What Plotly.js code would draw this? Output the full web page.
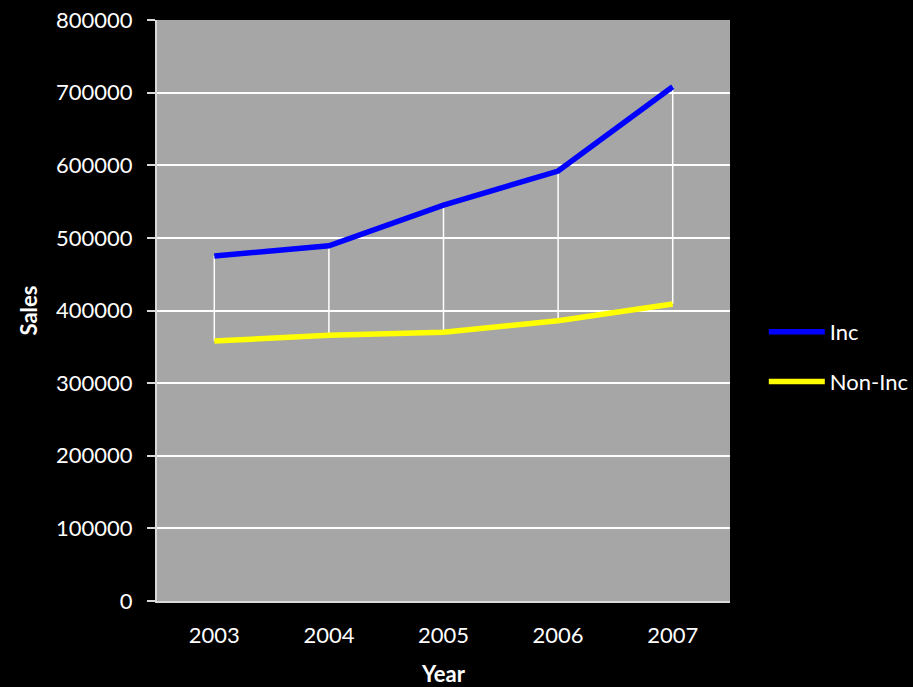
<!DOCTYPE html>
<html>
<head>
<meta charset="utf-8">
<script src="https://cdn.plot.ly/plotly-3.0.1.min.js"></script>
<style>
  html, body { margin: 0; padding: 0; background: #000; }
  #chart { width: 913px; height: 687px; }
</style>
</head>
<body>
<div id="chart"></div>
<script>
// Yearly sales for the two groups
const years = ['2003', '2004', '2005', '2006', '2007'];
const incSales = [475000, 489000, 545000, 592000, 708000];
const nonIncSales = [358000, 366000, 370000, 386000, 409000];
const yTicks = [0, 100000, 200000, 300000, 400000, 500000, 600000, 700000, 800000];

// High-low connectors between the two series at each year
const hlX = [];
const hlY = [];
years.forEach((yr, i) => {
  hlX.push(yr, yr, null);
  hlY.push(nonIncSales[i], incSales[i], null);
});

const font = 'Lato, "Open Sans", sans-serif';
const fs = 22;

const traces = [
  {
    x: hlX, y: hlY, mode: 'lines', type: 'scatter',
    line: { color: '#ffffff', width: 1.5 },
    showlegend: false, hoverinfo: 'skip'
  },
  {
    x: years, y: incSales, name: 'Inc', mode: 'lines', type: 'scatter',
    legendgroup: 'inc',
    line: { color: '#0000ff', width: 5.5 }
  },
  {
    x: years, y: nonIncSales, name: 'Non-Inc', mode: 'lines', type: 'scatter',
    legendgroup: 'noninc',
    line: { color: '#ffff00', width: 5.5 }
  }
];

const layout = {
  width: 913, height: 687,
  paper_bgcolor: '#000000',
  plot_bgcolor: '#a6a6a6',
  margin: { l: 157, r: 183, t: 20, b: 86, autoexpand: false },
  font: { family: font, color: '#ffffff', size: fs },
  showlegend: true,
  legend: {
    x: 1.059, y: 0.42, xanchor: 'left', yanchor: 'middle',
    bgcolor: 'rgba(0,0,0,0)',
    font: { family: font, color: '#ffffff', size: fs },
    traceorder: 'grouped',
    tracegroupgap: 18,
    itemwidth: 56
  },
  xaxis: {
    type: 'category',
    range: [-0.5, 4.5],
    showgrid: false,
    showline: true, linecolor: '#d9d9d9', linewidth: 2,
    ticks: '',
    ticklabelstandoff: 14,
    tickfont: { family: font, color: '#ffffff', size: fs },
    title: { text: 'Year', font: { family: font, color: '#ffffff', size: fs, weight: 'bold' }, standoff: 20 },
    zeroline: false, fixedrange: true
  },
  yaxis: {
    range: [0, 800000],
    tickvals: yTicks,
    ticktext: yTicks.map(String),
    showgrid: true, gridcolor: '#ffffff', gridwidth: 2,
    showline: true, linecolor: '#d9d9d9', linewidth: 2,
    ticks: 'outside', ticklen: 8, tickcolor: '#d9d9d9', tickwidth: 2,
    ticklabelstandoff: 10,
    tickfont: { family: font, color: '#ffffff', size: fs },
    title: { text: 'Sales', font: { family: font, color: '#ffffff', size: fs, weight: 'bold' }, standoff: 12 },
    zeroline: false, fixedrange: true
  }
};

Plotly.newPlot('chart', traces, layout, { staticPlot: true, displayModeBar: false });
</script>
</body>
</html>
